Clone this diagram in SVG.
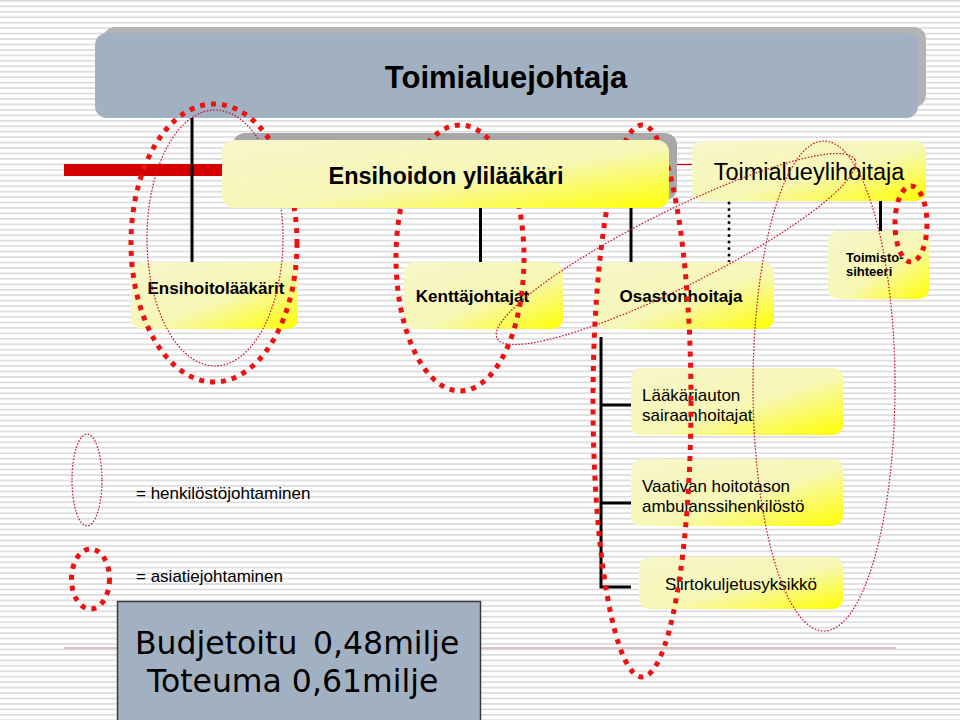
<svg xmlns="http://www.w3.org/2000/svg" width="960" height="720" viewBox="0 0 960 720">
<defs>
<pattern id="stripes" width="20" height="5.45" patternUnits="userSpaceOnUse"><rect width="20" height="1.7" fill="#dcdcdc"/></pattern>
<linearGradient id="yel" x1="0" y1="0" x2="1" y2="1"><stop offset="0" stop-color="#f6f6cb"/><stop offset="0.55" stop-color="#f7f7b6"/><stop offset="1" stop-color="#ffff00"/></linearGradient>
<style>
.bold{font-family:"Liberation Sans",Arial,sans-serif;font-weight:bold;fill:#000}
.reg{font-family:"Liberation Sans",Arial,sans-serif;fill:#000}
.ybox{fill:url(#yel)}
.line{stroke:#000;stroke-width:3;fill:none}
.asia{fill:none;stroke:#ee1111;stroke-width:5;stroke-dasharray:5 6}
.henk{fill:none;stroke:#c41230;stroke-width:1.2;stroke-dasharray:1.6 1.6}
</style>
</defs>
<rect width="960" height="720" fill="#ffffff"/>
<rect width="960" height="720" fill="url(#stripes)"/>
<line x1="64" y1="648" x2="896" y2="648" stroke="#d8c2c2" stroke-width="2"/>

<g id="toimialuejohtaja">
<rect x="103" y="27" width="823" height="80" rx="12" fill="#b3b3b3"/>
<rect x="95" y="33" width="823" height="85" rx="12" fill="#a2b1c1"/>
<text class="bold" x="506" y="88" font-size="31" text-anchor="middle">Toimialuejohtaja</text>
</g>

<g id="connectors">
<rect x="64" y="164" width="158" height="12" fill="#d40000"/>
<line x1="669" y1="164.5" x2="692" y2="164.5" stroke="#d40000" stroke-width="1.2"/>
<line class="line" x1="192" y1="118" x2="192" y2="262"/>
<line class="line" x1="480.5" y1="205" x2="480.5" y2="262"/>
<line class="line" x1="631" y1="205" x2="631" y2="262"/>
<line x1="729" y1="203" x2="729" y2="262" stroke="#000" stroke-width="3" stroke-linecap="round" stroke-dasharray="0 6.5"/>
<line class="line" x1="880.5" y1="201" x2="880.5" y2="231"/>
<polyline class="line" points="601,337 601,587 631,587"/>
<line class="line" x1="601" y1="405" x2="631" y2="405"/>
<line class="line" x1="601" y1="503" x2="631" y2="503"/>
</g>

<g id="ensihoitolaakarit">
<rect class="ybox" x="131" y="262" width="167" height="67" rx="10"/>
<text class="bold" x="216" y="294" font-size="17" text-anchor="middle">Ensihoitolääkärit</text>
</g>
<g id="kenttajohtajat">
<rect class="ybox" x="404" y="262" width="159" height="67" rx="10"/>
<text class="bold" x="472.5" y="302" font-size="17" text-anchor="middle">Kenttäjohtajat</text>
</g>
<g id="osastonhoitaja">
<rect class="ybox" x="595" y="262" width="179" height="67" rx="10"/>
<text class="bold" x="681" y="302" font-size="17" text-anchor="middle">Osastonhoitaja</text>
</g>
<g id="toimistosihteeri">
<rect class="ybox" x="828" y="231" width="101" height="68" rx="10"/>
<text class="bold" font-size="13"><tspan x="846" y="262">Toimisto-</tspan><tspan x="846" y="276">sihteeri</tspan></text>
</g>
<g id="toimialueylihoitaja">
<rect class="ybox" x="692" y="141" width="234" height="60" rx="10"/>
<text class="reg" x="809" y="180" font-size="23.5" text-anchor="middle">Toimialueylihoitaja</text>
</g>
<g id="laakariauton">
<rect class="ybox" x="631" y="368" width="212" height="67" rx="10"/>
<text class="reg" font-size="17"><tspan x="642" y="401">Lääkäriauton</tspan><tspan x="642" y="421">sairaanhoitajat</tspan></text>
</g>
<g id="vaativan">
<rect class="ybox" x="631" y="459" width="212" height="67" rx="10"/>
<text class="reg" font-size="17"><tspan x="642" y="492">Vaativan hoitotason</tspan><tspan x="642" y="512">ambulanssihenkilöstö</tspan></text>
</g>
<g id="siirtokuljetus">
<rect class="ybox" x="639" y="557" width="204" height="52" rx="10"/>
<text class="reg" x="741" y="590" font-size="17" text-anchor="middle">Siirtokuljetusyksikkö</text>
</g>

<g id="ensihoidon-shadow">
<rect x="233" y="133" width="444" height="67" rx="12" fill="#a8a8a8"/>
</g>

<g id="annotations">
<ellipse class="asia" cx="214" cy="243" rx="83" ry="139"/>
<ellipse class="asia" cx="460" cy="258" rx="64" ry="133"/>
<ellipse class="asia" cx="642" cy="401" rx="49" ry="276"/>
<ellipse class="asia" cx="911" cy="224" rx="16" ry="38"/>
<ellipse class="henk" cx="215" cy="238" rx="68" ry="128"/>
<ellipse class="henk" cx="676" cy="249" rx="200" ry="38" transform="rotate(-26.5 676 249)"/>
<ellipse class="henk" cx="824" cy="386" rx="71" ry="245"/>
</g>

<g id="ensihoidon-ylilaakari">
<rect class="ybox" x="222" y="140" width="447" height="68" rx="12"/>
<text class="bold" x="446" y="184" font-size="23.5" text-anchor="middle">Ensihoidon ylilääkäri</text>
</g>

<g id="legend">
<ellipse class="henk" cx="87" cy="480" rx="15" ry="46"/>
<text class="reg" x="136" y="499" font-size="17">= henkilöstöjohtaminen</text>
<ellipse class="asia" cx="90.5" cy="579" rx="19" ry="30"/>
<text class="reg" x="136" y="582" font-size="17">= asiatiejohtaminen</text>
</g>

<g id="budjetti">
<rect x="117.5" y="601.5" width="363" height="130" fill="#a2b1c1" stroke="#3a3a3a" stroke-width="1.5"/>
<text font-family="'DejaVu Sans',Verdana,sans-serif" font-size="31.5" fill="#000"><tspan x="135" y="654">Budjetoitu</tspan><tspan x="313" y="654">0,48milje</tspan><tspan x="147" y="692">Toteuma 0,61milje</tspan></text>
</g>
</svg>
